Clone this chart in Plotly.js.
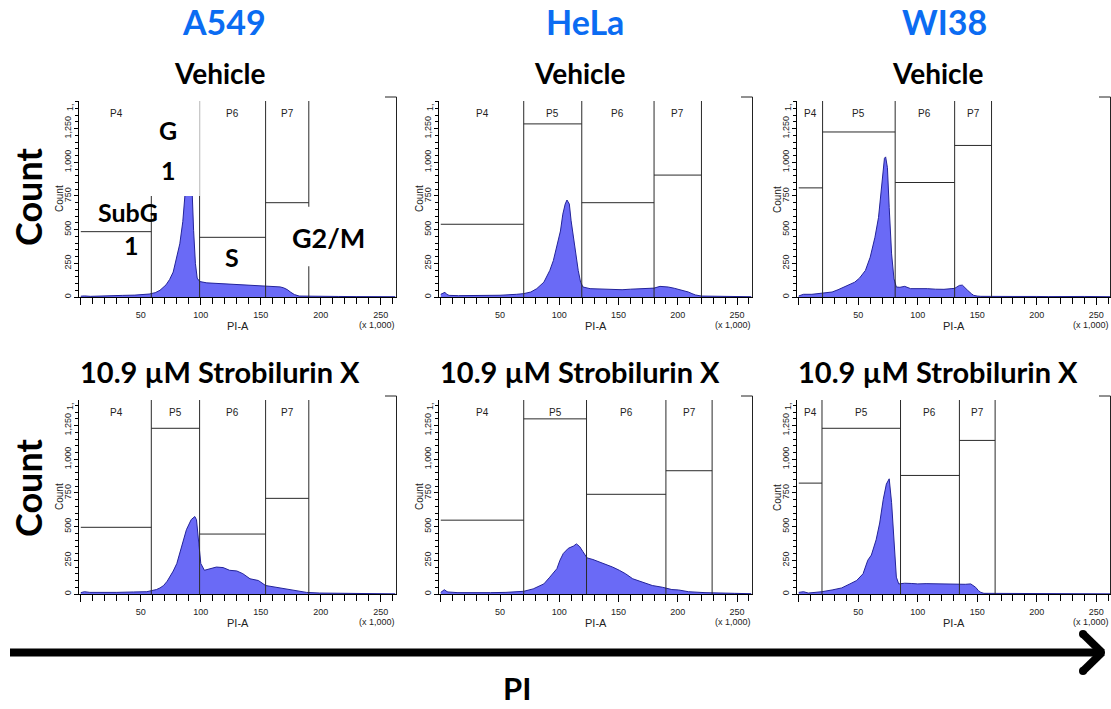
<!DOCTYPE html>
<html><head><meta charset="utf-8">
<script src="https://cdn.plot.ly/plotly-3.0.1.min.js"></script>
<style>html,body{margin:0;padding:0;background:#fff}#chart{width:1111px;height:709px}</style>
</head><body><div id="chart"></div>
<script>
// ---------- DATA (PI-A in thousands, Count) ----------
const cellLines = ['A549', 'HeLa', 'WI38'];
const conditions = ['Vehicle', '10.9 µM Strobilurin X'];
const gateNames = ['P4', 'P5', 'P6', 'P7'];
const phaseLabels = ['G', '1', 'SubG', '1', 'S', 'G2/M'];

const a549VehX = [0, 3, 8, 15, 25, 35, 45, 52, 57, 62, 66, 71, 74, 77, 80, 82.5, 85, 87, 89, 91, 92.5, 94, 95.5, 97, 99, 105, 115, 127, 140, 155, 162, 166, 169, 172, 175, 178, 182, 190, 200, 215, 230, 245, 262];
const a549VehY = [6, 8, 5, 8, 10, 12, 14, 17, 22, 32, 50, 90, 130, 185, 300, 395, 560, 760, 1000, 1050, 850, 495, 250, 140, 115, 105, 100, 94, 88, 82, 78, 75, 68, 55, 35, 18, 7, 5, 4, 4, 3, 5, 2];

const helaVehX = [0, 2, 3.5, 5, 7, 15, 28, 40, 50, 64, 70, 76, 81, 87, 92, 95, 98, 101, 103, 105, 106.5, 108.5, 110, 113, 116, 118, 120, 126, 133, 140, 147, 153, 160, 167, 174, 180, 185, 189, 192, 197, 201, 205, 209, 212, 215, 220, 230, 240, 251, 253, 262];
const helaVehY = [20, 30, 35, 20, 12, 10, 10, 11, 13, 20, 25, 37, 62, 110, 197, 270, 370, 490, 615, 690, 720, 690, 566, 370, 197, 110, 74, 62, 60, 57, 55, 54, 58, 62, 64, 66, 79, 78, 74, 65, 57, 47, 37, 25, 15, 7, 5, 4, 6, 3, 2];

const wi38VehX = [0, 1.4, 4, 11, 20, 28, 33, 38, 42, 47, 51, 56, 60, 64, 67, 69, 71, 72, 73, 74.5, 76, 78, 80, 82, 85, 89, 94, 100, 108, 115, 122, 128, 131, 133, 135, 137.5, 140, 142, 145, 147, 150, 153, 180, 190, 200, 210, 220, 240, 262];
const wi38VehY = [8, 12, 20, 20, 30, 37, 54, 75, 93, 110, 140, 197, 295, 443, 590, 787, 972, 1030, 1040, 960, 664, 320, 135, 74, 72, 79, 62, 63, 62, 58, 57, 62, 64, 75, 86, 88, 70, 49, 25, 12, 7, 5, 4, 6, 4, 3, 5, 4, 2];

const a549StrX = [0, 1, 3, 7.5, 16, 30, 44, 55, 59, 63, 66, 69, 72, 74, 77, 80, 84, 88, 92, 95, 96.4, 98.3, 100, 103, 107.5, 113, 118.6, 124, 130, 135, 141, 148, 154, 163, 171, 180, 188, 199, 210, 224, 238, 262];
const a549StrY = [10, 12, 17, 12, 10, 12, 15, 17, 25, 33, 45, 63, 95, 125, 170, 226, 351, 477, 552, 575, 552, 376, 226, 176, 188, 200, 196, 176, 171, 151, 113, 100, 63, 50, 38, 20, 12, 7, 5, 7, 2, 1];

const helaStrX = [0, 2, 3, 4.5, 6, 14.5, 28, 42, 55, 64.5, 70, 78, 87, 92, 98, 100.6, 103.4, 107.6, 112, 114.5, 117.3, 120, 123.4, 128.4, 134, 139.6, 145, 150.7, 156, 162, 170, 178.5, 187, 195, 200.7, 209, 223, 237, 248, 262];
const helaStrY = [12, 25, 32, 22, 15, 10, 8, 10, 12, 15, 20, 38, 75, 125, 188, 251, 301, 339, 356, 372, 351, 314, 268, 256, 238, 221, 200, 176, 150, 113, 88, 63, 50, 33, 30, 17, 10, 5, 5, 2];

const wi38StrX = [0, 1.4, 4, 8, 14, 19.4, 28, 36, 43, 48.6, 54, 58, 61, 65, 68, 71, 73.6, 76, 78, 80, 82, 84, 89, 95, 100, 107, 114, 120, 125, 130, 136, 140, 144.5, 148.6, 151, 153, 155.6, 170, 200, 220, 247, 262];
const wi38StrY = [12, 15, 17, 7, 12, 17, 30, 45, 75, 100, 150, 251, 289, 402, 527, 703, 816, 855, 678, 427, 125, 75, 80, 78, 75, 77, 75, 78, 75, 72, 68, 72, 75, 50, 25, 12, 5, 4, 4, 3, 3, 1];

// interval gates: boundaries (thousands) and marker heights (count) for P4..P7
const a549VehGateEdges = [0, 58.75, 99, 154, 190];
const a549VehGateHeights = [485, 1230, 443, 700];
const helaVehGateEdges = [0, 70, 119, 180, 220];
const helaVehGateHeights = [540, 1285, 700, 905];
const wi38VehGateEdges = [0, 20, 81, 131, 162];
const wi38VehGateHeights = [810, 1225, 850, 1125];
const a549StrGateEdges = [0, 58.75, 99, 154, 190];
const a549StrGateHeights = [495, 1230, 445, 710];
const helaStrGateEdges = [0, 70, 123, 190, 229];
const helaStrGateHeights = [548, 1300, 740, 915];
const wi38StrGateEdges = [0, 19.5, 85.5, 135, 165];
const wi38StrGateHeights = [823, 1230, 880, 1140];

// ---------- LAYOUT ----------
const W = 1111, H = 709;
const px = v => v / W;
const py = v => 1 - v / H;
const FACS_FONT = '"Liberation Sans Narrow", "Liberation Sans", Arial, sans-serif';
const TITLE_FONT = 'Lato, "Open Sans", "Noto Sans", sans-serif';
const BLUE = '#0b6cf2';

const colDom = [[79, 397], [439, 753], [797, 1111]];
const rowDom = [[101, 297], [400, 594]];
const yMax = [1455, 1440];
const xRanges = [[-1.5, 263.5], [-1.5, 263.5], [-1.5, 262.4]];

const panels = [
  {x: a549VehX, y: a549VehY, edges: a549VehGateEdges, heights: a549VehGateHeights, hide: ['P5']},
  {x: helaVehX, y: helaVehY, edges: helaVehGateEdges, heights: helaVehGateHeights, hide: []},
  {x: wi38VehX, y: wi38VehY, edges: wi38VehGateEdges, heights: wi38VehGateHeights, hide: []},
  {x: a549StrX, y: a549StrY, edges: a549StrGateEdges, heights: a549StrGateHeights, hide: []},
  {x: helaStrX, y: helaStrY, edges: helaStrGateEdges, heights: helaStrGateHeights, hide: []},
  {x: wi38StrX, y: wi38StrY, edges: wi38StrGateEdges, heights: wi38StrGateHeights, hide: []}
];

const traces = [];
const shapes = [];
const annotations = [];
const layout = {
  width: W, height: H, margin: {l: 0, r: 0, t: 0, b: 0},
  paper_bgcolor: '#fff', plot_bgcolor: '#fff', showlegend: false
};

function note(o) {
  annotations.push(Object.assign({showarrow: false, xanchor: 'center', yanchor: 'middle', xref: 'paper', yref: 'paper'}, o));
}

panels.forEach((p, i) => {
  const row = Math.floor(i / 3), col = i % 3;
  const s = i === 0 ? '' : String(i + 1);
  const xa = 'x' + s, ya = 'y' + s;
  const [cl, cr] = colDom[col];
  const [rt, rb] = rowDom[row];

  traces.push({
    type: 'scatter', mode: 'lines', x: p.x, y: p.y, xaxis: xa, yaxis: ya,
    fill: 'tozeroy', fillcolor: 'rgb(106,106,246)',
    line: {color: '#23239a', width: 1}, hoverinfo: 'skip'
  });

  layout['xaxis' + s] = {
    domain: [px(cl), px(cr)], range: xRanges[col], anchor: ya,
    showline: true, linecolor: '#000', linewidth: 1, mirror: false,
    ticks: 'outside', ticklen: 7, tickcolor: '#000', tickwidth: 1,
    tickmode: 'linear', tick0: 0, dtick: 50, labelalias: {'0': ' '},
    ticklabelstandoff: 2,
    tickfont: {family: FACS_FONT, size: 9, color: '#222'},
    minor: {ticks: 'outside', ticklen: 6, tick0: 0, dtick: 10, tickcolor: '#000', tickwidth: 1},
    showgrid: false, zeroline: false, fixedrange: true
  };
  layout['yaxis' + s] = {
    domain: [py(rb), py(rt)], range: [0, yMax[row]], anchor: xa,
    showline: true, linecolor: '#000', linewidth: 1,
    ticks: 'outside', ticklen: 4, tickcolor: '#000', tickwidth: 1,
    tickmode: 'linear', tick0: 0, dtick: 250, tickformat: ',d', tickangle: -90,
    ticklabelstandoff: -1,
    tickfont: {family: FACS_FONT, size: 9, color: '#222'},
    minor: {ticks: 'outside', ticklen: 3, tick0: 0, dtick: 50, tickcolor: '#000', tickwidth: 1},
    showgrid: false, zeroline: false, fixedrange: true
  };

  // right frame + top-right stub
  shapes.push({type: 'line', xref: 'paper', yref: 'paper', x0: px(cr - 0.5), x1: px(cr - 0.5), y0: py(rb), y1: py(rt - 4), line: {color: '#222', width: 1}});
  shapes.push({type: 'line', xref: 'paper', yref: 'paper', x0: px(cr - 12), x1: px(cr - 0.5), y0: py(rt - 4), y1: py(rt - 4), line: {color: '#222', width: 1}});

  // interval gates
  for (let g = 0; g < gateNames.length; g++) {
    const a = p.edges[g], b = p.edges[g + 1];
    shapes.push({type: 'line', xref: xa, yref: ya, x0: a, x1: b, y0: p.heights[g], y1: p.heights[g], line: {color: '#2a2a2a', width: 1}});
    shapes.push({type: 'line', xref: xa, yref: ya + ' domain', x0: b, x1: b, y0: 0, y1: 1, line: {color: '#2a2a2a', width: 1}});
    if (!p.hide.includes(gateNames[g])) {
      note({xref: xa, yref: ya + ' domain', x: (a + b) / 2, y: 0.935, text: gateNames[g],
        font: {family: FACS_FONT, size: 10, color: '#222'}});
    }
  }

  // small FACS axis texts
  const base = rb;
  note({x: px(cl - 20), y: py((rt + rb) / 2), text: 'Count', textangle: -90,
    font: {family: FACS_FONT, size: 10, color: '#222'}});
  note({x: px(cl - 9), y: py(rt + 6), text: '1,', textangle: -90,
    font: {family: FACS_FONT, size: 9, color: '#222'}});
  note({x: px((cl + cr) / 2), y: py(base + 29), text: 'PI-A',
    font: {family: FACS_FONT, size: 11, color: '#222'}});
  note({x: px(cr - 20), y: py(base + 28), text: '(x 1,000)',
    font: {family: FACS_FONT, size: 9, color: '#222'}});
});

// pasted labels over the A549 vehicle panel (white boxes hide what is under them)
shapes.push({type: 'rect', xref: 'x', yref: 'y', x0: 57.3, x1: 99.6, y0: 750, y1: 1500, fillcolor: '#fff', line: {width: 0}});
shapes.push({type: 'line', xref: 'x', yref: 'y', x0: 99, x1: 99, y0: 750, y1: 1500, line: {color: '#c4c4c4', width: 1}});
shapes.push({type: 'rect', xref: 'x', yref: 'y', x0: 168, x1: 242, y0: 228, y1: 670, fillcolor: '#fff', line: {width: 0}});

const phasePos = [[168, 130], [168, 170], [128, 212], [131, 245], [232, 257], [328, 238]];
const phaseSize = [25, 25, 25, 25, 25, 27];
phaseLabels.forEach((t, k) => {
  note({x: px(phasePos[k][0]), y: py(phasePos[k][1]), text: '<b>' + t + '</b>',
    font: {family: TITLE_FONT, size: phaseSize[k], color: '#000'}});
});

// column titles and condition titles
const colCenters = [224, 585, 945];
const condCenters = [220, 580, 938];
cellLines.forEach((t, c) => {
  note({x: px(colCenters[c]), y: py(22), text: '<b>' + t + '</b>',
    font: {family: TITLE_FONT, size: 34, color: BLUE}});
  note({x: px(condCenters[c]), y: py(73), text: '<b>' + conditions[0] + '</b>',
    font: {family: TITLE_FONT, size: 28, color: '#000'}});
  note({x: px(condCenters[c]), y: py(371), text: '<b>' + conditions[1] + '</b>',
    font: {family: TITLE_FONT, size: 29, color: '#000'}});
});

// big row labels
[197, 488].forEach(yc => {
  note({x: px(28), y: py(yc), text: '<b>Count</b>', textangle: -90,
    font: {family: TITLE_FONT, size: 36, color: '#000'}});
});
note({x: px(517), y: py(688), text: '<b>PI</b>',
  font: {family: TITLE_FONT, size: 31, color: '#000'}});

// big arrow
shapes.push({type: 'line', xref: 'paper', yref: 'paper', x0: px(10), x1: px(1097), y0: py(652.5), y1: py(652.5), line: {color: '#000', width: 8}});
shapes.push({type: 'line', xref: 'paper', yref: 'paper', x0: px(1083), x1: px(1102), y0: py(634), y1: py(652.5), line: {color: '#000', width: 8}});
shapes.push({type: 'line', xref: 'paper', yref: 'paper', x0: px(1102), x1: px(1083), y0: py(652.5), y1: py(671), line: {color: '#000', width: 8}});
[[1083, 634], [1083, 671], [1101, 652.5]].forEach(([cx, cy]) => {
  shapes.push({type: 'circle', xref: 'paper', yref: 'paper', x0: px(cx - 4), x1: px(cx + 4), y0: py(cy + 4), y1: py(cy - 4), fillcolor: '#000', line: {width: 0}});
});

layout.shapes = shapes;
layout.annotations = annotations;

Plotly.newPlot('chart', traces, layout, {staticPlot: true, displayModeBar: false});
</script>
</body></html>
